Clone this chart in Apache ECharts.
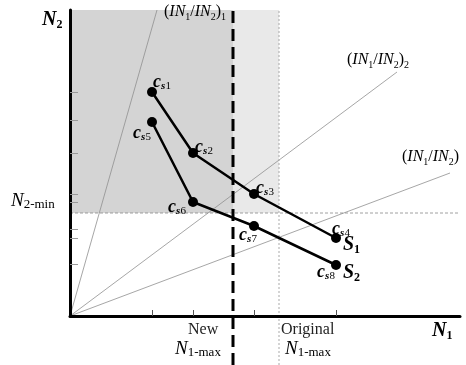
<!DOCTYPE html>
<html><head><meta charset="utf-8">
<script src="https://cdn.jsdelivr.net/npm/echarts@6/dist/echarts.min.js"></script>
<style>html,body{margin:0;padding:0;background:#fff}#c{width:466px;height:365px}</style>
</head><body><div id="c"></div>
<script>
// Data (arbitrary units)
const s1N1 = [82, 123, 184, 266];
const s1N2 = [224, 163, 122, 78];
const s2N1 = [82, 123, 184, 266];
const s2N2 = [194, 114, 90, 51];
const s1Names = ['s1', 's2', 's3', 's4'];
const s2Names = ['s5', 's6', 's7', 's8'];
const xTicks = [82, 123, 184, 266];
const yTicks = [224, 196, 163, 122, 114, 87, 78, 52];
const rayEnds = [[87, 306], [327, 244], [380, 143]];
const n2Min = 103;
const newN1Max = 163;
const origN1Max = 209;
const xMax = 390, yMax = 306;

const F = 'Liberation Serif';
const subRich = {
  c: {fontFamily: F, fontStyle: 'italic', fontWeight: 'bold', fontSize: 18, lineHeight: 20, color: '#000'},
  s: {fontFamily: F, fontStyle: 'italic', fontWeight: 'bold', fontSize: 11, lineHeight: 11, verticalAlign: 'bottom', color: '#000'},
  d: {fontFamily: F, fontSize: 11, lineHeight: 11, verticalAlign: 'bottom', color: '#000'}
};
const s1Off = [[10, -10], [11, -6], [11, -6], [5, -9]];
const s2Off = [[-10, 11], [-16, 5], [-6, 9], [-10, 7]];
function pts(xs, ys, names, offs) {
  return xs.map((x, i) => ({
    value: [x, ys[i]],
    label: {show: true, position: 'inside', offset: offs[i],
      formatter: '{c|c}{s|s}{d|' + names[i].slice(1) + '}', rich: subRich}
  }));
}
const boldSub = (t, s) => ({
  rich: {
    n: {fontFamily: F, fontStyle: 'italic', fontWeight: 'bold', fontSize: 20, lineHeight: 22},
    d: {fontFamily: F, fontWeight: 'bold', fontSize: 12, lineHeight: 12, verticalAlign: 'bottom'}},
  text: '{n|' + t + '}{d|' + s + '}'});
const plainSub = (t, s) => ({
  rich: {
    n: {fontFamily: F, fontStyle: 'italic', fontSize: 19, lineHeight: 22, color: '#222'},
    d: {fontFamily: F, fontSize: 13, lineHeight: 13, verticalAlign: 'bottom', color: '#222'}},
  text: '{n|' + t + '}{d|' + s + '}'});
const ratio = (sub) => ({
  rich: {
    n: {fontFamily: F, fontStyle: 'italic', fontSize: 16, lineHeight: 20, color: '#222'},
    p: {fontFamily: F, fontSize: 16, lineHeight: 20, color: '#222'},
    d: {fontFamily: F, fontSize: 10, lineHeight: 10, verticalAlign: 'bottom', color: '#222'}},
  text: '{p|(}{n|IN}{d|1}{p|/}{n|IN}{d|2}{p|)}' + (sub ? '{d|' + sub + '}' : '')});

const chart = echarts.init(document.getElementById('c'));
const thin = {color: '#8f8f8f', width: 0.8};
chart.setOption({
  animation: false,
  grid: {left: 70, top: 10, right: 6, bottom: 49},
  xAxis: {type: 'value', min: 0, max: xMax, z: 5,
    axisLine: {lineStyle: {color: '#000', width: 3}},
    axisTick: {inside: true, length: 6, customValues: xTicks, lineStyle: {color: '#555', width: 1}},
    axisLabel: {show: false}, splitLine: {show: false}},
  yAxis: {type: 'value', min: 0, max: yMax, z: 5,
    axisLine: {lineStyle: {color: '#000', width: 3}},
    axisTick: {inside: true, length: 8, customValues: yTicks, lineStyle: {color: '#999', width: 1}},
    axisLabel: {show: false}, splitLine: {show: false}},
  series: [
    {type: 'line', data: [], z: 1, silent: true,
      markArea: {silent: true, data: [
        [{coord: [0, n2Min], itemStyle: {color: '#d4d4d4'}}, {coord: [newN1Max, yMax]}],
        [{coord: [newN1Max, n2Min], itemStyle: {color: '#e9e9e9'}}, {coord: [origN1Max, yMax]}]
      ]}},
    ...rayEnds.map(e => ({type: 'line', data: [[0, 0], e], symbol: 'none', lineStyle: thin, z: 2, clip: false})),
    {type: 'line', data: [[-40, n2Min], [xMax, n2Min]], symbol: 'none', clip: false, z: 2,
      lineStyle: {color: '#888', width: 0.8, type: [3, 2]}},
    {type: 'line', data: [[origN1Max, -49], [origN1Max, yMax]], symbol: 'none', clip: false, z: 2,
      lineStyle: {color: '#aaa', width: 1, type: [2, 2]}},
    {type: 'line', data: [[newN1Max, -49], [newN1Max, yMax]], symbol: 'none', clip: false, z: 3,
      lineStyle: {color: '#000', width: 3, type: [12, 6]}},
    {type: 'line', data: pts(s1N1, s1N2, s1Names, s1Off), symbol: 'circle', symbolSize: 10, z: 4,
      itemStyle: {color: '#000'}, lineStyle: {color: '#000', width: 2.5}},
    {type: 'line', data: pts(s2N1, s2N2, s2Names, s2Off), symbol: 'circle', symbolSize: 10, z: 4,
      itemStyle: {color: '#000'}, lineStyle: {color: '#000', width: 2.5}}
  ],
  graphic: [
    {type: 'text', z: 100, left: 42, top: 10, style: boldSub('N', '2')},
    {type: 'text', z: 100, left: 432, top: 321, style: boldSub('N', '1')},
    {type: 'text', z: 100, left: 11, top: 191, style: plainSub('N', '2-min')},
    {type: 'text', z: 100, left: 188, top: 322, style: {text: 'New', font: '16px "Liberation Serif"', fill: '#222'}},
    {type: 'text', z: 100, left: 175, top: 339, style: plainSub('N', '1-max')},
    {type: 'text', z: 100, left: 281, top: 322, style: {text: 'Original', font: '16px "Liberation Serif"', fill: '#222'}},
    {type: 'text', z: 100, left: 285, top: 339, style: plainSub('N', '1-max')},
    {type: 'text', z: 100, left: 343, top: 235, style: boldSub('S', '1')},
    {type: 'text', z: 100, left: 343, top: 263, style: boldSub('S', '2')},
    {type: 'text', z: 100, left: 164, top: 4, style: ratio('1')},
    {type: 'text', z: 100, left: 347, top: 52, style: ratio('2')},
    {type: 'text', z: 100, left: 402, top: 149, style: ratio('')}
  ]
});
</script></body></html>
